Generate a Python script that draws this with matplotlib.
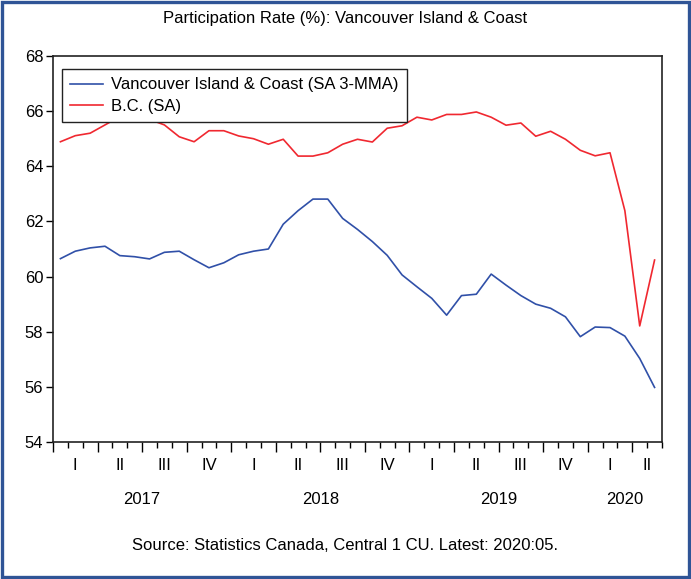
import numpy as np
import matplotlib
matplotlib.use("Agg")
import matplotlib.pyplot as plt
import matplotlib.transforms as mtransforms
from matplotlib.patches import Rectangle

plt.rcParams['font.family'] = ['Liberation Sans', 'DejaVu Sans']

# ---- data ----
months = [f"{y}:{m:02d}" for y in (2017, 2018, 2019) for m in range(1, 13)] + \
         [f"2020:{m:02d}" for m in range(1, 6)]

vancouver_island = [60.65, 60.92, 61.04, 61.10, 60.76, 60.72, 60.64, 60.88, 60.92, 60.61,
                    60.32, 60.50, 60.79, 60.92, 61.00, 61.90, 62.39, 62.81, 62.81, 62.11,
                    61.71, 61.27, 60.77, 60.06, 59.63, 59.21, 58.60, 59.31, 59.36, 60.09,
                    59.69, 59.31, 59.00, 58.85, 58.54, 57.82, 58.17, 58.15, 57.84, 57.03,
                    55.98]
bc = [64.89, 65.11, 65.20, 65.50, 65.80, 65.90, 65.70, 65.50, 65.07, 64.89,
      65.29, 65.29, 65.10, 65.00, 64.80, 64.98, 64.37, 64.37, 64.49, 64.80,
      64.98, 64.88, 65.38, 65.47, 65.78, 65.68, 65.88, 65.88, 65.97, 65.78,
      65.49, 65.57, 65.09, 65.27, 64.98, 64.58, 64.38, 64.49, 62.39, 58.21,
      60.60]

series_names = ["Vancouver Island & Coast (SA 3-MMA)", "B.C. (SA)"]
quarter_labels = ["I", "II", "III", "IV"] * 3 + ["I", "II"]
year_labels = ["2017", "2018", "2019", "2020"]
y_ticks = [54, 56, 58, 60, 62, 64, 66, 68]

title = "Participation Rate (%): Vancouver Island & Coast"
source = "Source: Statistics Canada, Central 1 CU. Latest: 2020:05."

FS = 12

# ---- figure ----
W, H = 691, 579
fig = plt.figure(figsize=(W / 100, H / 100), dpi=100)
fig.patch.set_facecolor("white")
fig.patches.append(Rectangle((0.003, 0.004), 0.994, 0.992, transform=fig.transFigure,
                             fill=False, edgecolor="#2F5496", linewidth=2.4))

left, right, top, bottom = 53, 662, 56, 442
ax = fig.add_axes([left / W, 1 - bottom / H, (right - left) / W, (bottom - top) / H])

x = np.arange(len(months))
ax.plot(x, vancouver_island, color="#3050A8", lw=1.2, label=series_names[0])
ax.plot(x, bc, color="#F02830", lw=1.2, label=series_names[1])

n = len(months)
ax.set_xlim(-0.5, n - 0.5)
ax.set_ylim(54, 68)
ax.set_yticks(y_ticks)
ax.tick_params(axis="y", direction="out", length=5, width=1, labelsize=FS, pad=2)

# x ticks: month boundaries (minor), quarter boundaries (major)
bounds = np.arange(n + 1) - 0.5
qbounds = bounds[::3]
ax.set_xticks(qbounds)
ax.set_xticks(bounds, minor=True)
ax.set_xticklabels([])
ax.tick_params(axis="x", which="major", direction="out", length=7, width=1)
ax.tick_params(axis="x", which="minor", direction="out", length=4, width=1)

for s in ax.spines.values():
    s.set_linewidth(1.2)
    s.set_color("#222222")

trans = mtransforms.blended_transform_factory(ax.transData, ax.transAxes)
# quarter labels centred on the visible part of each quarter
for k, lab in enumerate(quarter_labels):
    a = k * 3 - 0.5
    b = min(a + 3, n - 0.5)
    ax.text((a + b) / 2, -0.062, lab, transform=trans, ha="center", va="center", fontsize=FS)
for k, lab in enumerate(year_labels):
    a = k * 12 - 0.5
    b = min(a + 12, n - 0.5)
    ax.text((a + b) / 2, -0.150, lab, transform=trans, ha="center", va="center", fontsize=FS)

leg = ax.legend(loc="upper left", bbox_to_anchor=(0.0148, 0.966), fontsize=FS,
                frameon=True, fancybox=False, edgecolor="#222222", framealpha=1,
                handlelength=1.95, handletextpad=0.5, borderpad=0.5, labelspacing=0.4,
                borderaxespad=0)
leg.get_frame().set_linewidth(1.0)

fig.text(0.5, 1 - 18 / H, title, ha="center", va="center", fontsize=FS)
fig.text(0.5, 1 - 545 / H, source, ha="center", va="center", fontsize=FS)

fig.savefig("out.png", dpi=100)
